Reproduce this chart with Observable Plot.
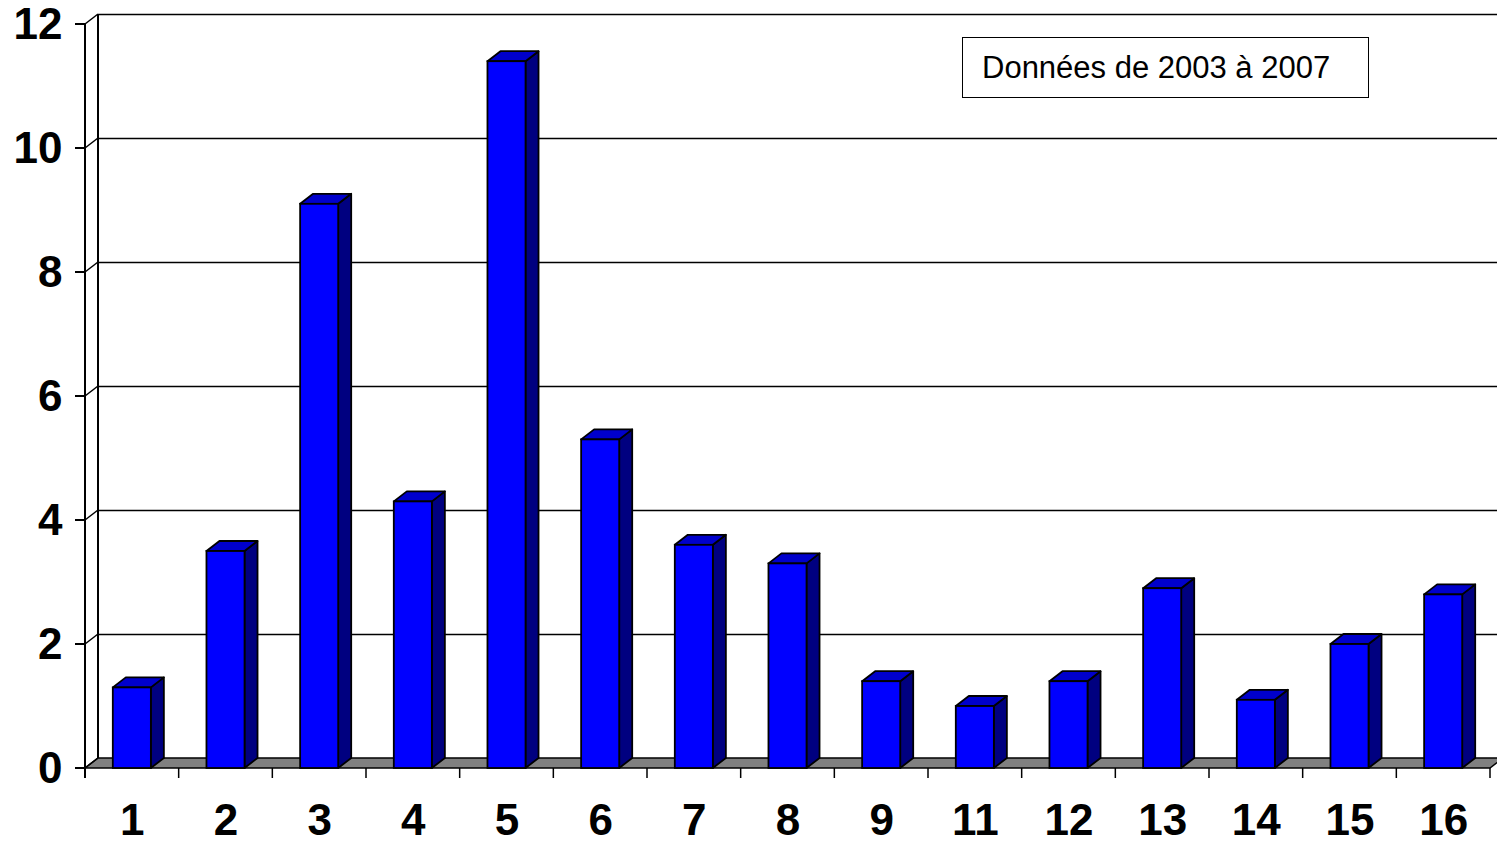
<!DOCTYPE html>
<html>
<head>
<meta charset="utf-8">
<script src="https://cdn.jsdelivr.net/npm/d3@7"></script>
<script src="https://cdn.jsdelivr.net/npm/@observablehq/plot@0.6"></script>
<style>
  html, body { margin: 0; padding: 0; background: #fff; }
  #wrap { position: relative; width: 1497px; height: 844px; overflow: hidden; }
  #legend {
    position: absolute; left: 962px; top: 37px; width: 407px; height: 61px;
    box-sizing: border-box; border: 1.6px solid #000; background: #fff;
    font-family: "Liberation Sans", Arial, sans-serif; font-size: 31px;
    display: flex; align-items: center; padding-left: 19px; color: #000;
  }
</style>
</head>
<body>
<div id="wrap"></div>
<script>
const categories = ["1","2","3","4","5","6","7","8","9","11","12","13","14","15","16"];
const values = [1.3, 3.5, 9.1, 4.3, 11.4, 5.3, 3.6, 3.3, 1.4, 1.0, 1.4, 2.9, 1.1, 2.0, 2.8];
const yTicks = [0, 2, 4, 6, 8, 10, 12];
const legendText = "Données de 2003 à 2007";

const data = categories.map((c, i) => ({cat: c, value: values[i]}));

const DX = 13, DY = -10;          // depth offset in pixels
const FRONT = "#0000ff", SIDE = "#000080", TOP = "#0000cc", FLOOR = "#808080";
const INSET = 27.8;

function walls(index, scales) {
  const x = scales.x, y = scales.y;
  const bw = x.bandwidth();
  const x0 = x(categories[0]);
  const x1 = x(categories[categories.length - 1]) + bw;
  const y0 = y(0), yTop = y(12);
  const g = d3.create("svg:g");
  g.append("line").attr("x1", x0 + DX).attr("x2", x0 + DX)
    .attr("y1", y0 + DY).attr("y2", yTop + DY)
    .attr("stroke", "#000").attr("stroke-width", 2);
  g.append("path")
    .attr("d", `M${x0},${y0}L${x1},${y0}L${x1 + DX},${y0 + DY}L${x0 + DX},${y0 + DY}Z`)
    .attr("fill", FLOOR).attr("stroke", "#000").attr("stroke-width", 1.5);
  g.append("line").attr("x1", x0).attr("x2", x0).attr("y1", y0 + 10).attr("y2", yTop)
    .attr("stroke", "#000").attr("stroke-width", 2);
  for (const t of yTicks) {
    g.append("line").attr("x1", x0 - 10).attr("x2", x0).attr("y1", y(t)).attr("y2", y(t))
      .attr("stroke", "#000").attr("stroke-width", 2);
    g.append("line").attr("x1", x0).attr("x2", x0 + DX).attr("y1", y(t)).attr("y2", y(t) + DY)
      .attr("stroke", "#000").attr("stroke-width", 1.5);
  }
  for (let i = 0; i <= categories.length; i++) {
    const xx = x0 + i * bw;
    g.append("line").attr("x1", xx).attr("x2", xx).attr("y1", y0).attr("y2", y0 + 10)
      .attr("stroke", "#000").attr("stroke-width", 1.5);
  }
  return g.node();
}

function bars3d(index, scales) {
  const x = scales.x, y = scales.y;
  const bw = x.bandwidth();
  const g = d3.create("svg:g").attr("stroke", "#000").attr("stroke-width", 1.8).attr("stroke-linejoin", "round");
  for (const d of data) {
    const l = x(d.cat) + INSET, r = x(d.cat) + bw - INSET;
    const yb = y(0), yt = y(d.value);
    g.append("path")
      .attr("d", `M${r},${yb}L${r},${yt}L${r + DX},${yt + DY}L${r + DX},${yb + DY}Z`)
      .attr("fill", SIDE);
    g.append("path")
      .attr("d", `M${l},${yt}L${r},${yt}L${r + DX},${yt + DY}L${l + DX},${yt + DY}Z`)
      .attr("fill", TOP);
  }
  return g.node();
}

const chart = Plot.plot({
  width: 1497,
  height: 844,
  marginLeft: 85,
  marginRight: 7,
  marginTop: 24,
  marginBottom: 76,
  style: {
    fontFamily: "'Liberation Sans', Arial, sans-serif",
    fontSize: "44px",
    fontWeight: "bold",
    color: "#000",
    background: "transparent",
    overflow: "visible"
  },
  x: {
    type: "band",
    domain: categories,
    paddingInner: 0,
    paddingOuter: 0,
    round: false,
    tickSize: 0,
    tickPadding: 35,
    label: null
  },
  y: {
    domain: [0, 12],
    ticks: yTicks,
    tickSize: 0,
    tickPadding: 23,
    label: null
  },
  marks: [
    Plot.ruleY(yTicks.filter(t => t > 0), {dx: DX, dy: DY, stroke: "#000", strokeWidth: 1.5}),
    walls,
    bars3d,
    Plot.barY(data, {x: "cat", y: "value", fill: FRONT, stroke: "#000", strokeWidth: 1.8,
      insetLeft: INSET, insetRight: INSET})
  ]
});

const wrap = document.getElementById("wrap");
wrap.appendChild(chart);
const legend = document.createElement("div");
legend.id = "legend";
legend.textContent = legendText;
wrap.appendChild(legend);
</script>
</body>
</html>
